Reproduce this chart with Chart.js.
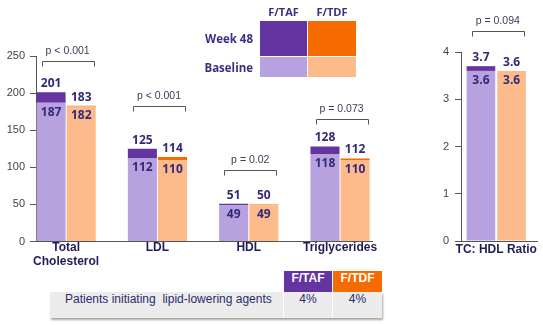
<!DOCTYPE html>
<html>
<head>
<meta charset="utf-8">
<script src="https://cdn.jsdelivr.net/npm/chart.js@4/dist/chart.umd.min.js"></script>
<style>
  html, body { margin: 0; padding: 0; background: #fff; }
  body { width: 543px; height: 325px; position: relative; overflow: hidden; font-family: "Liberation Sans", Arial, sans-serif; }
  canvas { position: absolute; top: 0; }
  #lipids { left: 0; }
  #ratio { left: 400px; }
  .abs { position: absolute; }
  .keyHead { top: 4px; height: 14px; line-height: 14px; text-align: center; font: bold 11px "Open Sans", sans-serif; color: #3b2f82; }
  .keyRow { right: 290px; height: 14px; line-height: 14px; text-align: right; font: bold 11.5px "Open Sans", sans-serif; color: #3b2f82; white-space: nowrap; }
  .th { top: 271px; height: 21px; line-height: 21px; text-align: center; color: #fff; font: bold 12px "Liberation Sans", Arial, sans-serif; }
  .row { left: 50px; top: 292px; width: 332px; height: 26px; background: #ececec; box-shadow: 1px 2px 2px rgba(0,0,0,0.35); }
  .td { top: 292px; height: 26px; line-height: 26px; color: #2b2a70; font: 12px "Liberation Sans", Arial, sans-serif; white-space: pre; }
</style>
</head>
<body>
<canvas id="lipids" width="395" height="270"></canvas>
<canvas id="ratio" width="143" height="270"></canvas>

<!-- key: treatment columns, visit rows -->
<div class="abs keyHead" style="left:260px;width:47px;">F/TAF</div>
<div class="abs keyHead" style="left:308px;width:48px;">F/TDF</div>
<div class="abs" style="left:260px;top:21px;width:47px;height:35px;background:#6434a0;"></div>
<div class="abs" style="left:308px;top:21px;width:48px;height:35px;background:#f56b00;"></div>
<div class="abs" style="left:260px;top:57px;width:47px;height:20px;background:#b7a1de;"></div>
<div class="abs" style="left:308px;top:57px;width:48px;height:20px;background:#fdba8a;"></div>
<div class="abs keyRow" style="top:31px;">Week 48</div>
<div class="abs keyRow" style="top:60px;">Baseline</div>

<!-- lipid-lowering agents table -->
<div class="abs row"></div>
<div class="abs th" style="left:284px;width:48px;background:#6434a0;">F/TAF</div>
<div class="abs th" style="left:333px;width:49px;background:#f56b00;">F/TDF</div>
<div class="abs" style="left:332px;top:271px;width:1px;height:47px;background:#fff;"></div>
<div class="abs" style="left:283px;top:292px;width:1px;height:26px;background:#fff;"></div>
<div class="abs td" style="left:65px;">Patients initiating  lipid-lowering agents</div>
<div class="abs td" style="left:284px;width:48px;text-align:center;" id="pctTaf"></div>
<div class="abs td" style="left:333px;width:49px;text-align:center;" id="pctTdf"></div>

<script>
// Lipid panels (mg/dL), baseline and week 48
const categories  = [['Total', 'Cholesterol'], 'LDL', 'HDL', 'Triglycerides'];
const tafBaseline = [187, 112, 49, 118];
const tafWeek48   = [201, 125, 51, 128];
const tdfBaseline = [182, 110, 49, 110];
const tdfWeek48   = [183, 114, 50, 112];
const pLabels     = ['p < 0.001', 'p < 0.001', 'p = 0.02', 'p = 0.073'];
const pBracketAt  = [243, 183, 97, 165];
const lipidTicks  = [0, 50, 100, 150, 200, 250];

// Total cholesterol : HDL ratio
const ratioCategory    = ['TC: HDL Ratio'];
const tafRatioBaseline = [3.6];
const tafRatioWeek48   = [3.7];
const tdfRatioBaseline = [3.6];
const tdfRatioWeek48   = [3.6];
const ratioPLabels     = ['p = 0.094'];
const ratioBracketAt   = [4.44];
const ratioTicks       = [0, 1, 2, 3, 4];

// Patients initiating lipid-lowering agents
const agentsTaf = '4%';
const agentsTdf = '4%';
document.getElementById('pctTaf').textContent = agentsTaf;
document.getElementById('pctTdf').textContent = agentsTdf;

const TAF_DARK = '#6434a0', TAF_LIGHT = '#b7a1de';
const TDF_DARK = '#f56b00', TDF_LIGHT = '#fdba8a';
const AXIS = '#555555';
const VALUE_COLOR = '#322a78';
const LABEL_COLOR = '#1f1d58';

const points = vals => vals.map((v, i) => ({ x: i, y: v }));
const rise = (base, top) => top.map((v, i) => ({ x: i, y: v - base[i] }));

// value labels over/inside bars plus p-value brackets
const annotate = {
  id: 'annotate',
  afterDatasetsDraw(chart, args, o) {
    const { ctx } = chart;
    const y = chart.scales.y;
    ctx.save();
    ctx.textAlign = 'center';
    ctx.textBaseline = 'middle';
    ctx.font = 'bold 12px "Open Sans", sans-serif';
    ctx.fillStyle = VALUE_COLOR;
    o.series.forEach(s => {
      const meta = chart.getDatasetMeta(s.dataset);
      s.top.forEach((v, i) => {
        const bar = meta.data[i];
        const yt = y.getPixelForValue(v);
        const yb = y.getPixelForValue(s.base[i]);
        ctx.fillText(v.toFixed(o.decimals), bar.x, yt - 8.5);
        ctx.fillText(s.base[i].toFixed(o.decimals), bar.x, yb + 9.5);
      });
    });
    const left = chart.getDatasetMeta(0), right = chart.getDatasetMeta(2);
    ctx.strokeStyle = AXIS;
    ctx.lineWidth = 1;
    ctx.font = '10.5px "Liberation Sans", Arial, sans-serif';
    ctx.fillStyle = '#3c3c58';
    o.pLabels.forEach((txt, i) => {
      const a = left.data[i], b = right.data[i];
      const cx = ((a.x - a.width / 2) + (b.x + b.width / 2)) / 2 + 1.5;
      const yy = Math.round(y.getPixelForValue(o.pAt[i])) + 0.5;
      const x1 = Math.round(cx - 26) + 0.5, x2 = Math.round(cx + 26) + 0.5;
      ctx.beginPath();
      ctx.moveTo(x1, yy + 5);
      ctx.lineTo(x1, yy);
      ctx.lineTo(x2, yy);
      ctx.lineTo(x2, yy + 5);
      ctx.stroke();
      ctx.fillText(txt, cx, yy - 10);
    });
    ctx.restore();
  }
};

function build(id, cfg) {
  const canvas = document.getElementById(id);
  return new Chart(canvas, {
    type: 'bar',
    data: {
      datasets: [
        { label: 'F/TAF Baseline', data: points(cfg.tafB), backgroundColor: TAF_LIGHT, stack: 'taf' },
        { label: 'F/TAF Week 48', data: rise(cfg.tafB, cfg.tafW), backgroundColor: TAF_DARK, stack: 'taf' },
        { label: 'F/TDF Baseline', data: points(cfg.tdfB), backgroundColor: TDF_LIGHT, stack: 'tdf' },
        { label: 'F/TDF Week 48', data: rise(cfg.tdfB, cfg.tdfW), backgroundColor: TDF_DARK, stack: 'tdf' }
      ]
    },
    options: {
      responsive: false,
      animation: false,
      devicePixelRatio: 1,
      categoryPercentage: cfg.catPct,
      barPercentage: cfg.barPct,
      layout: { padding: { top: cfg.top, right: cfg.right, left: 0, bottom: 0 } },
      plugins: {
        legend: { display: false },
        tooltip: { enabled: false },
        annotate: {
          decimals: cfg.decimals,
          pLabels: cfg.pLabels,
          pAt: cfg.pAt,
          series: [
            { dataset: 0, base: cfg.tafB, top: cfg.tafW },
            { dataset: 2, base: cfg.tdfB, top: cfg.tdfW }
          ]
        }
      },
      scales: {
        x: {
          type: 'linear',
          offset: false,
          stacked: true,
          min: cfg.xMin,
          max: cfg.xMax,
          afterFit: s => { s.height = canvas.height - cfg.bottom; },
          afterBuildTicks: s => { s.ticks = cfg.cats.map((c, i) => ({ value: i })); },
          ticks: {
            autoSkip: false,
            maxRotation: 0,
            padding: cfg.xPad,
            color: LABEL_COLOR,
            font: { family: '"Liberation Sans", Arial, sans-serif', size: 12, weight: 'bold', lineHeight: 1.1 },
            callback: v => cfg.cats[v]
          },
          grid: { display: false, drawTicks: false, offset: false },
          border: { display: true, color: AXIS, width: 1 }
        },
        y: {
          stacked: true,
          min: 0,
          max: cfg.yTicks[cfg.yTicks.length - 1],
          afterFit: s => { s.width = cfg.axisX; },
          afterBuildTicks: s => { s.ticks = cfg.yTicks.map(v => ({ value: v })); },
          ticks: {
            padding: cfg.yPad,
            color: '#444',
            font: { family: '"Liberation Sans", Arial, sans-serif', size: 11 }
          },
          grid: { display: true, drawOnChartArea: false, drawTicks: true, tickLength: 6, color: AXIS },
          border: { display: true, color: AXIS, width: 1 }
        }
      }
    },
    plugins: [annotate]
  });
}

build('lipids', {
  cats: categories, tafB: tafBaseline, tafW: tafWeek48, tdfB: tdfBaseline, tdfW: tdfWeek48,
  pLabels: pLabels, pAt: pBracketAt, yTicks: lipidTicks, decimals: 0,
  xMin: -0.33, xMax: 3.35, catPct: 0.66, barPct: 0.965,
  top: 56, bottom: 241.5, right: 23, axisX: 36, xPad: 0, yPad: 5
});

build('ratio', {
  cats: ratioCategory, tafB: tafRatioBaseline, tafW: tafRatioWeek48, tdfB: tdfRatioBaseline, tdfW: tdfRatioWeek48,
  pLabels: ratioPLabels, pAt: ratioBracketAt, yTicks: ratioTicks, decimals: 1,
  xMin: -0.464, xMax: 0.536, catPct: 0.807, barPct: 0.934,
  top: 52, bottom: 241, right: 6, axisX: 61, xPad: 2, yPad: 6
});
</script>
</body>
</html>
